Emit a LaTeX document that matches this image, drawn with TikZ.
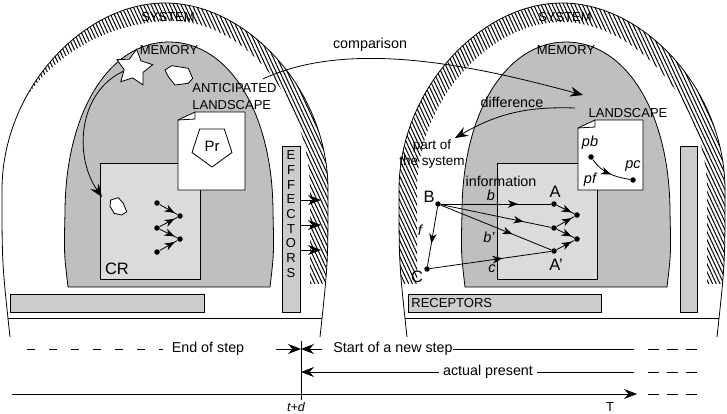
\documentclass[tikz,border=0pt]{standalone}
\usepackage{fontspec}
\setmainfont{Liberation Sans}
\usepackage{xcolor}
\usepackage{tikz}
\usetikzlibrary{arrows.meta,calc,patterns.meta,shapes.geometric,decorations.markings}

\definecolor{memgray}{gray}{0.75}
\definecolor{crgray}{gray}{0.86}
\definecolor{bargray}{gray}{0.80}

\begin{document}
\begin{tikzpicture}[x=1pt,y=1pt,line width=0.8pt,
    arrowed/.style={-{Stealth[length=13pt,width=10pt,inset=4.5pt]}},
    midarrow/.style={postaction={decorate,decoration={markings,
        mark=at position #1 with {\arrow{Stealth[length=10pt,width=7.5pt,inset=3pt]}}}}},
    blackdot/.style={circle,fill=black,inner sep=0pt,minimum size=5.5pt},
    capstxt/.style={font=\fontsize{13}{16}\selectfont,inner sep=0pt},
    words/.style={font=\fontsize{14.3}{16.5}\selectfont,inner sep=0pt},
    bigtxt/.style={font=\fontsize{16.5}{19}\selectfont,inner sep=0pt},
    vartxt/.style={font=\fontsize{14.5}{17}\selectfont\itshape,inner sep=0pt},
    graybar/.style={draw,fill=bargray,inner sep=0pt},
    wallhatch/.style={pattern={Lines[angle=-65,distance=3.4pt,line width=1pt]}}]
    \useasboundingbox (0,0) rectangle (727,413);
    \fill[white] (0,0) rectangle (727,413);

    % Left system: wall (hatched on top and right)
    \begin{scope}
      \clip (-10,130) rectangle (737,420);
      \clip (10,76) .. controls (2,150) .. (2,223) .. controls (2,323) and (83,410) .. (165,410)
        .. controls (247,410) and (328,323) .. (328,223) .. controls (328,150) .. (320,76) -- cycle;
      \fill[wallhatch,even odd rule] (-10,100) rectangle (737,420)
        (-2,110) -- (-2,223) .. controls (-2,325) and (85,392) .. (172,392)
        .. controls (245,392) and (310,313) .. (310,223) -- (310,110) -- cycle;
    \end{scope}
    \draw (10,76) .. controls (2,150) .. (2,223) .. controls (2,323) and (83,410) .. (165,410)
      .. controls (247,410) and (328,323) .. (328,223) .. controls (328,150) .. (320,76);
    \draw (8,95) -- (322,95);

    % Right system: wall (hatched all round)
    \begin{scope}
      \clip (380,130) rectangle (737,420);
      \clip (407,76) .. controls (399,150) .. (399,223) .. controls (399,323) and (480,410) .. (562,410)
        .. controls (644,410) and (725,323) .. (725,223) .. controls (725,150) .. (717,76) -- cycle;
      \fill[wallhatch,even odd rule] (380,100) rectangle (737,420)
        (417,110) -- (417,223) .. controls (417,313) and (490,391) .. (562,391)
        .. controls (634,391) and (707,313) .. (707,223) -- (707,110) -- cycle;
    \end{scope}
    \draw (407,76) .. controls (399,150) .. (399,223) .. controls (399,323) and (480,410) .. (562,410)
      .. controls (644,410) and (725,323) .. (725,223) .. controls (725,150) .. (717,76);
    \draw (405,95) -- (719,95);

    % Memory domes
    \filldraw[fill=memgray] (68,126) .. controls (64,160) .. (65,200) .. controls (65,300) and (109,371) .. (169,371)
      .. controls (229,371) and (273,300) .. (273,200) .. controls (274,160) .. (270,126) -- cycle;
    \filldraw[fill=memgray] (465,126) .. controls (461,160) .. (462,200) .. controls (462,300) and (506,371) .. (566,371)
      .. controls (626,371) and (670,300) .. (670,200) .. controls (671,160) .. (667,126) -- cycle;

    % CR boxes
    \filldraw[fill=crgray] (100,134) rectangle (200,250);
    \filldraw[fill=crgray] (497,134) rectangle (597,250);

    % Anticipated landscape page
    \filldraw[fill=white] (178,223) -- (245,223) -- (245,301) -- (195,301) -- (178,293) -- cycle;
    \draw (195,301) -- (195,294) -- (178,293);
    \node[draw,fill=white,regular polygon,regular polygon sides=5,shape border rotate=180,
      minimum size=42pt,inner sep=0pt,font=\fontsize{15}{17}\selectfont] (pr) at (212,267) {Pr};

    % Landscape page
    \filldraw[fill=white] (578,223) -- (643,223) -- (643,293) -- (595,293) -- (578,285) -- cycle;
    \draw (595,293) -- (595,286) -- (578,285);

    % Bars
    \node[graybar,minimum width=194pt,minimum height=18pt] (leftbar) at (107,110) {};
    \node[graybar,minimum width=18pt,minimum height=166pt] (effectors) at (291,184) {};
    \node[font=\fontsize{13}{14.7}\selectfont,align=center,inner sep=0pt] (efftxt) at (291,199) {E\\F\\F\\E\\C\\T\\O\\R\\S};
    \node[graybar,minimum width=193pt,minimum height=18pt] (receptors) at (504.5,110) {};
    \node[capstxt,anchor=west] (reclbl) at (411,110) {RECEPTORS};
    \node[graybar,minimum width=17pt,minimum height=166pt] (rightbar) at (688.5,184) {};

    % Effector outputs
    \foreach \yy in {213,188,163}
      \draw[arrowed] (effectors.east |- 0,\yy) -- (321,\yy);

    % Memory contents
    \node[draw,fill=white,star,star points=5,star point ratio=1.9,minimum size=38pt,
      inner sep=0pt,rotate=-8] (star) at (134,345) {};
    \filldraw[fill=white] (165,343) -- (171.7,347.3) -- (188.3,344.7) -- (192.7,334.7)
      -- (188.3,329.7) -- (175,328) -- (168.3,336.3) -- cycle;
    \filldraw[fill=white] (110.7,213) -- (118.3,215.3) -- (123.3,209.7) -- (126.7,201.3)
      -- (121.7,198) -- (114,199.7) -- (110,206.7) -- cycle;
    \coordinate (recall) at (102,216);
    \draw[arrowed] (star.205) to[out=205,in=125] (recall);

    % CR network
    \node[blackdot] (n1) at (157,210) {};
    \node[blackdot] (n2) at (180,197) {};
    \node[blackdot] (n3) at (157,185) {};
    \node[blackdot] (n4) at (180,174) {};
    \node[blackdot] (n5) at (157,161) {};
    \draw[midarrow=0.85] (n1) -- (n2);
    \draw[midarrow=0.85] (n3) -- (n2);
    \draw[midarrow=0.85] (n3) -- (n4);
    \draw[midarrow=0.85] (n5) -- (n4);

    % Receptor network
    \node[blackdot] (B) at (438,209) {};
    \node[blackdot] (C) at (427,144) {};
    \node[blackdot] (A) at (554,209) {};
    \node[blackdot] (M) at (554,185) {};
    \node[blackdot] (Ap) at (554,162) {};
    \node[blackdot] (R1) at (577,198) {};
    \node[blackdot] (R2) at (577,174) {};
    \draw[midarrow=0.7] (B) -- (A);
    \draw[midarrow=0.75] (B) -- (M);
    \draw[midarrow=0.65] (B) -- (Ap);
    \draw[midarrow=0.62] (B) -- (C);
    \draw[midarrow=0.6] (C) -- (Ap);
    \draw[midarrow=0.85] (A) -- (R1);
    \draw[midarrow=0.85] (M) -- (R1);
    \draw[midarrow=0.85] (M) -- (R2);
    \draw[midarrow=0.85] (Ap) -- (R2);
    \node[bigtxt] (Blbl) at (429,216) {B};
    \node[bigtxt] (Clbl) at (417,136) {C};
    \node[bigtxt] (Albl) at (555,221) {A};
    \node[bigtxt] (Aplbl) at (556,148) {A'};
    \node[vartxt] (blbl) at (491,218) {b};
    \node[vartxt] (bplbl) at (489,176) {b'};
    \node[vartxt] (clbl) at (492,144) {c};
    \node[vartxt] (flbl) at (420,183) {f};
    \node[words] (infolbl) at (501,232) {information};

    % Landscape points
    \node[blackdot] (pbdot) at (591,256) {};
    \node[blackdot] (pcdot) at (633,233) {};
    \draw[midarrow=0.55] (pbdot) to[out=-55,in=170] (pcdot);
    \node[vartxt] (pblbl) at (590,270) {pb};
    \node[vartxt] (pclbl) at (633,247) {pc};
    \node[vartxt] (pflbl) at (590,233) {pf};

    % Labels
    \node[capstxt] (sysL) at (168,396) {SYSTEM};
    \node[capstxt] (sysR) at (565,396) {SYSTEM};
    \node[capstxt] (memL) at (169,363) {MEMORY};
    \node[capstxt] (memR) at (566,363) {MEMORY};
    \node[capstxt,font=\fontsize{13}{17}\selectfont,align=left,anchor=west] (antlbl) at (192,316.5) {ANTICIPATED\\LANDSCAPE};
    \node[capstxt] (landlbl) at (628,300) {LANDSCAPE};
    \node[bigtxt] (crlbl) at (117,144) {CR};

    % Comparison and difference
    \node[words] (cmplbl) at (370,368) {comparison};
    \coordinate (cmpend) at (583,318);
    \draw[arrowed] ([xshift=-14pt,yshift=4pt]antlbl.north east) to[out=25,in=165,looseness=0.8] (cmpend);
    \node[words] (difflbl) at (512,311) {difference};
    \node[words,font=\fontsize{13.5}{16.5}\selectfont,align=center] (partlbl) at (432,259) {part of\\the system};
    \coordinate (diffstart) at (575,305);
    \coordinate (diffend) at (455,275);
    \draw[arrowed] (diffstart) to[out=178,in=30] (diffend);

    % Time axis
    \coordinate (tdtop) at (301,72);
    \coordinate (tdbot) at (301,13);
    \draw (tdtop) -- (tdbot);
    \coordinate (stepmark) at (301,64);
    \coordinate (nowmark) at (301,41);
    \draw[dash pattern=on 8pt off 14pt] (27,64) -- (163,64);
    \node[words] (endlbl) at (208,64) {End of step};
    \draw[arrowed] ([xshift=31pt]endlbl.east) -- (stepmark);
    \node[words,anchor=west] (newlbl) at (333,64) {Start of a new step};
    \draw[arrowed] ([xshift=-11pt]newlbl.west) -- (stepmark);
    \draw (newlbl.east) -- (634,64);
    \node[words] (nowlbl) at (488,41) {actual present};
    \draw[arrowed] ([xshift=-4pt]nowlbl.west) -- (nowmark);
    \draw ([xshift=4pt]nowlbl.east) -- (634,41);
    \coordinate (tstart) at (12,19);
    \coordinate (tend) at (637,19);
    \draw[arrowed] (tstart) -- (tend);
    \foreach \yy in {64,41,19}
      \draw[dash pattern=on 11pt off 8pt] (648,\yy) -- (700,\yy);
    \node[font=\fontsize{12.5}{14}\selectfont\itshape,inner sep=0pt] (tdlbl) at (296,6) {t+d};
    \node[capstxt] (Tlbl) at (610,6) {T};
  \end{tikzpicture}
\end{document}
